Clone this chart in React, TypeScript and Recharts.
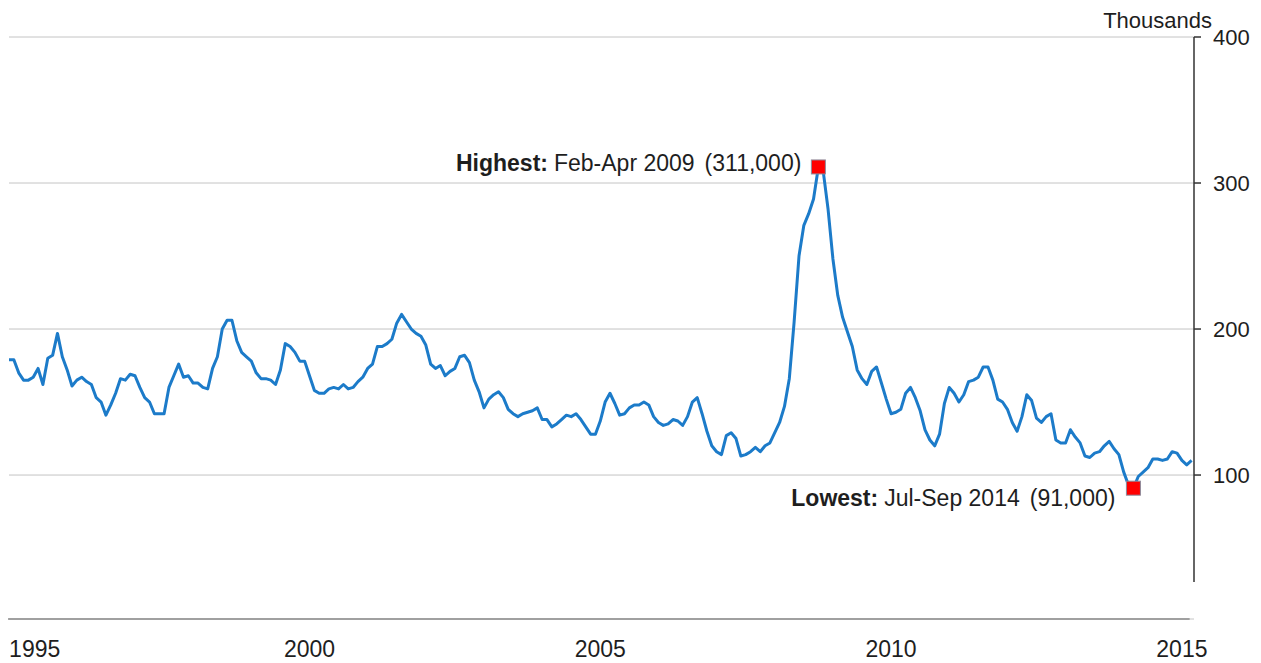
import React from 'react';
import { LineChart, Line, XAxis, YAxis, CartesianGrid, ReferenceDot, ReferenceLine } from 'recharts';

// Rolling three-month redundancy levels (thousands), Mar-May 1995 onward, one value per month
const values: number[] = [
  179, 179, 170, 165, 165, 167, 173, 162, 180, 182,
  197, 181, 172, 161, 165, 167, 164, 162, 153, 150,
  141, 148, 156, 166, 165, 169, 168, 160, 153, 150,
  142, 142, 142, 160, 168, 176, 167, 168, 163, 163,
  160, 159, 173, 181, 200, 206, 206, 192, 184, 181,
  178, 170, 166, 166, 165, 162, 172, 190, 188, 184,
  178, 178, 168, 158, 156, 156, 159, 160, 159, 162,
  159, 160, 164, 167, 173, 176, 188, 188, 190, 193,
  204, 210, 205, 200, 197, 195, 189, 176, 173, 175,
  168, 171, 173, 181, 182, 177, 165, 157, 146, 152,
  155, 157, 153, 145, 142, 140, 142, 143, 144, 146,
  138, 138, 133, 135, 138, 141, 140, 142, 138, 133,
  128, 128, 137, 150, 156, 149, 141, 142, 146, 148,
  148, 150, 148, 140, 136, 134, 135, 138, 137, 134,
  140, 150, 153, 142, 130, 120, 116, 114, 127, 129,
  125, 113, 114, 116, 119, 116, 120, 122, 129, 136,
  147, 166, 205, 250, 271, 279, 289, 311, 308, 282,
  248, 223, 208, 198, 188, 172, 166, 162, 171, 174,
  163, 152, 142, 143, 145, 156, 160, 153, 144, 131,
  124, 120, 128, 149, 160, 156, 150, 155, 164, 165,
  167, 174, 174, 165, 152, 150, 145, 136, 130, 140,
  155, 151, 139, 136, 140, 142, 124, 122, 122, 131,
  126, 122, 113, 112, 115, 116, 120, 123, 118, 114,
  102, 93, 91, 99, 102, 105, 111, 111, 110, 111,
  116, 115, 110, 107, 110,
];

const monthNames = ['Jan', 'Feb', 'Mar', 'Apr', 'May', 'Jun', 'Jul', 'Aug', 'Sep', 'Oct', 'Nov', 'Dec'];
const firstStartMonth = 2; // March
const firstYear = 1995;

const yearTickLabels = ['1995', '2000', '2005', '2010', '2015'];
const yTicks = [100, 200, 300, 400];

const highestText = ['Highest:', 'Feb-Apr 2009', '(311,000)'];
const lowestText = ['Lowest:', 'Jul-Sep 2014', '(91,000)'];

const periodLabel = (i: number) => {
  const s = firstStartMonth + i;
  const e = s + 2;
  return `${monthNames[s % 12]}-${monthNames[e % 12]} ${firstYear + Math.floor(e / 12)}`;
};

const data = values.map((v, i) => ({ idx: i, period: periodLabel(i), value: v }));

// x tick at mid-year (May-Jul period) of each labelled year
const xTicks = yearTickLabels.map((y) => (Number(y) - firstYear) * 12 + 5 - firstStartMonth - 1);

let hiIdx = 0;
let loIdx = 0;
values.forEach((v, i) => {
  if (v > values[hiIdx]) hiIdx = i;
  if (v < values[loIdx]) loIdx = i;
});

const FONT = '"Liberation Sans", Arial, sans-serif';
const TEXT = '#1e1e1e';
const X_MAX = 244.5;
const Y_MIN = 1.4;
const Y_AXIS_BOTTOM = 26.7;

const XTick = (props: any) => {
  const { x, y, payload, index } = props;
  const k = xTicks.indexOf(payload.value);
  return (
    <text x={x + (index === 0 ? 16 : 0)} y={y} dy="0.71em" textAnchor="middle" fontSize={23} fontFamily={FONT} fill={TEXT}>
      {yearTickLabels[k]}
    </text>
  );
};

const makeMarker = (lines: string[], dx: number, dy: number) => (p: any) => {
  const { cx, cy } = p;
  return (
    <g>
      <rect x={cx - 7} y={cy - 7} width={14} height={14} fill="#ff0000" stroke="#8c8c9c" strokeWidth={1} />
      <text x={cx + dx} y={cy + dy} textAnchor="end" fontSize={23} fontFamily={FONT} fill={TEXT}>
        <tspan fontWeight="bold">{lines[0]}</tspan>
        <tspan dx={6}>{lines[1]}</tspan>
        <tspan dx={10}>{lines[2]}</tspan>
      </text>
    </g>
  );
};

export default function App() {
  return (
    <div style={{ width: 1261, height: 663, background: '#fff' }}>
      <style>{'body{margin:0;}'}</style>
      <LineChart width={1261} height={663} data={data} margin={{ top: 37, left: 9, right: 0, bottom: 0 }}>
        <CartesianGrid horizontal vertical={false} stroke="#c4c4c4" strokeWidth={1} />
        <XAxis
          dataKey="idx"
          type="number"
          domain={[0, X_MAX]}
          ticks={xTicks}
          tick={<XTick />}
          axisLine={false}
          tickLine={false}
          tickSize={0}
          tickMargin={22}
          height={44}
          interval={0}
        />
        <YAxis
          orientation="right"
          type="number"
          domain={[Y_MIN, 400]}
          ticks={yTicks}
          width={67}
          axisLine={false}
          tickLine={{ stroke: '#333', strokeWidth: 1.5 }}
          tickSize={7}
          tickMargin={12}
          tick={{ fontSize: 22, fontFamily: FONT, fill: TEXT }}
          interval={0}
        />
        <ReferenceLine
          segment={[{ x: X_MAX, y: Y_AXIS_BOTTOM }, { x: X_MAX, y: 400 }]}
          stroke="#333"
          strokeWidth={1.5}
          ifOverflow="visible"
        />
        <ReferenceLine
          segment={[{ x: -0.2, y: Y_MIN }, { x: 243.6, y: Y_MIN }]}
          stroke="#8a8a8a"
          strokeWidth={1.5}
          ifOverflow="visible"
        />
        <Line
          type="linear"
          dataKey="value"
          stroke="#1c7bc9"
          strokeWidth={3}
          dot={false}
          strokeLinejoin="round"
          isAnimationActive={false}
        />
        <ReferenceDot x={hiIdx} y={values[hiIdx]} r={7} shape={makeMarker(highestText, -17, 4)} />
        <ReferenceDot x={loIdx} y={values[loIdx]} r={7} shape={makeMarker(lowestText, -18, 18)} />
        <text x={1212} y={28} textAnchor="end" fontSize={22} fontFamily={FONT} fill={TEXT}>
          Thousands
        </text>
      </LineChart>
    </div>
  );
}
